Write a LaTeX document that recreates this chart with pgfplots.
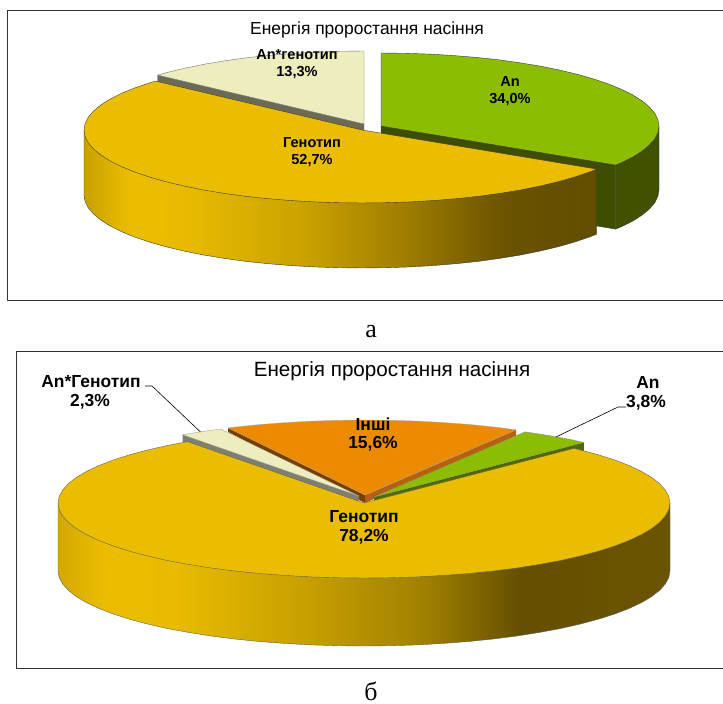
\documentclass[border=0pt]{standalone}
\usepackage{fontspec}
\setmainfont{Liberation Sans}
\newfontfamily\capfont{Liberation Serif}
\usepackage{pgfplots}
\pgfplotsset{compat=1.18}

\definecolor{yel}{HTML}{EBBD00}
\definecolor{grn}{HTML}{8DBD00}
\definecolor{grnwall}{HTML}{3D4E00}
\definecolor{grnwallb}{HTML}{4F6B00}
\definecolor{crm}{HTML}{EDEDBE}
\definecolor{crmwall}{HTML}{6B6B55}
\definecolor{crmwallb}{HTML}{7F7F70}
\definecolor{org}{HTML}{EC8B00}
\definecolor{brnl}{HTML}{B8610C}
\definecolor{brnd}{HTML}{7A3E00}
\definecolor{edge}{HTML}{3A3A30}

\tikzset{
  lblA/.style={font=\fontsize{14.6}{15}\selectfont\bfseries, inner sep=0pt, text=black},
  lblB/.style={font=\fontsize{17.5}{18}\selectfont\bfseries, inner sep=0pt, text=black},
}

% Side walls of the two large slices: bright at the left, dark towards the right
\pgfdeclarehorizontalshading{sideA}{100bp}{
  rgb(0bp)=(.79,.63,0); rgb(25bp)=(.79,.63,0); rgb(29.5bp)=(.922,.741,0);
  rgb(34.8bp)=(.91,.733,0); rgb(46bp)=(.80,.64,0); rgb(55.8bp)=(.63,.50,0);
  rgb(66.2bp)=(.416,.322,0); rgb(75bp)=(.384,.302,0); rgb(100bp)=(.384,.302,0)}
\pgfdeclarehorizontalshading{sideB}{100bp}{
  rgb(0bp)=(.824,.659,0); rgb(25bp)=(.824,.659,0); rgb(28.8bp)=(.922,.741,0);
  rgb(34.6bp)=(.91,.733,0); rgb(44.8bp)=(.788,.631,0); rgb(55bp)=(.627,.502,0);
  rgb(62.7bp)=(.396,.31,0); rgb(75bp)=(.42,.33,0); rgb(100bp)=(.42,.33,0)}

\begin{document}
\begin{tikzpicture}
\begin{axis}[
  width=723bp, height=704bp, scale only axis,
  xmin=0, xmax=723, ymin=0, ymax=704, y dir=reverse,
  hide axis,
  every axis plot/.append style={line join=round},
]
% page background
\addplot[fill=white, draw=none] coordinates {(0,0)(723,0)(723,704)(0,704)} --cycle;

% ---------- panel a: frames ----------
\addplot[draw=black!80, line width=0.9bp] coordinates {(723,10.5)(7,10.5)(7,300)(723,300)};
\addplot[draw=black!80, line width=0.9bp] coordinates {(723,351)(16,351)(16,668)(723,668)};

% ---------- panel a: An ----------
\addplot[fill=grnwall, draw=edge, line width=0.4bp] coordinates
  {(381,126)(615.7,165.1)(615.7,229.1)(381,190)} --cycle;
\addplot[fill=grnwall!96!grn, draw=edge, line width=0.4bp] coordinates
  {(659,126)(615.7,165.1)(615.7,229.1)(621.8,226.5)(633,220.9)(642.2,215)(649.5,208.9)
   (654.8,202.7)(657.9,196.4)(659,190)} --cycle;
\addplot[fill=grn, draw=edge, line width=0.4bp] coordinates
  {(381,126)(381,53)(405.2,53.3)(429.3,54.1)(452.9,55.5)(476.1,57.4)(498.5,59.8)(520,62.8)
   (540.5,66.2)(559.7,70.1)(577.6,74.4)(594,79.1)(608.7,84.1)(621.8,89.5)(633,95.1)
   (642.2,101)(649.5,107.1)(654.8,113.3)(657.9,119.6)(659,126)(657.9,132.4)(654.8,138.7)
   (649.5,144.9)(642.2,151)(633,156.9)(621.8,162.5)(615.7,165.1)} --cycle;

% ---------- panel a: An*genotype ----------
\addplot[fill=crmwall, draw=edge!70, line width=0.3bp] coordinates
  {(157.7,75.1)(364,124)(364,131)(157.7,82.1)} --cycle;
\addplot[fill=crm, draw=black!55, line width=0.4bp] coordinates
  {(364,124)(157.7,75.1)(167.4,72.4)(185.3,68.1)(204.5,64.2)(225,60.8)(246.5,57.8)
   (268.9,55.4)(292.1,53.5)(315.7,52.1)(339.8,51.3)(364,51)} --cycle;

% ---------- panel a: genotype ----------
\addplot[shade, shading=sideA, draw=edge, line width=0.4bp] coordinates
  {(84,130)(596.7,169.1)(596.7,234.1)(589.7,236.9)(575,241.9)(558.6,246.6)(540.7,250.9)
   (521.5,254.8)(501,258.2)(479.5,261.2)(457.1,263.6)(433.9,265.5)(410.3,266.9)(386.2,267.7)
   (362,268)(337.8,267.7)(313.7,266.9)(290.1,265.5)(266.9,263.6)(244.5,261.2)(223,258.2)
   (202.5,254.8)(183.3,250.9)(165.4,246.6)(149,241.9)(134.3,236.9)(121.2,231.5)(110,225.9)
   (100.8,220)(93.5,213.9)(88.2,207.7)(85.1,201.4)(84,195)} --cycle;
\addplot[fill=yel, draw=edge, line width=0.4bp] coordinates
  {(362,130)(596.7,169.1)(589.7,171.9)(575,176.9)(558.6,181.6)(540.7,185.9)(521.5,189.8)
   (501,193.2)(479.5,196.2)(457.1,198.6)(433.9,200.5)(410.3,201.9)(386.2,202.7)(362,203)
   (337.8,202.7)(313.7,201.9)(290.1,200.5)(266.9,198.6)(244.5,196.2)(223,193.2)(202.5,189.8)
   (183.3,185.9)(165.4,181.6)(149,176.9)(134.3,171.9)(121.2,166.5)(110,160.9)(100.8,155)
   (93.5,148.9)(88.2,142.7)(85.1,136.4)(84,130)(85.1,123.6)(88.2,117.3)(93.5,111.1)
   (100.8,105)(110,99.1)(121.2,93.5)(134.3,88.1)(149,83.1)(155.7,81.1)} --cycle;

% ---------- panel b: cut faces of the small slices ----------
\addplot[fill=brnl, draw=none] coordinates {(516.2,429.8)(365,495)(365,503)(516.2,435.8)} --cycle;
\addplot[fill=brnd, draw=none] coordinates {(228,427.9)(365,495)(365,503)(228,431.9)} --cycle;
\addplot[fill=grnwallb, draw=none] coordinates {(583.9,442.4)(374,497)(374,510)(583.9,452)} --cycle;

% ---------- panel b: An ----------
\addplot[fill=grn, draw=black!45, line width=0.3bp] coordinates
  {(374,497)(525.2,431.8)(549.5,435.6)(570.7,439.5)(583.9,442.4)} --cycle;

% ---------- panel b: others ----------
\addplot[fill=org, draw=black!35, line width=0.3bp] coordinates
  {(365,495)(228,427.9)(235.7,427)(260.3,424.5)(285.8,422.6)(311.9,421.1)(338.3,420.3)
   (365,420)(391.7,420.3)(418.1,421.1)(444.2,422.6)(469.7,424.5)(494.3,427)(516.2,429.8)} --cycle;

% ---------- panel b: An*genotype ----------
\addplot[fill=crmwallb, draw=none] coordinates {(182.6,434.7)(359,496)(359,503)(182.6,441.7)} --cycle;
\addplot[fill=crm, draw=black!40, line width=0.3bp] coordinates
  {(359,496)(182.6,434.7)(206,431)(220.6,429.1)} --cycle;

% ---------- panel b: genotype ----------
\addplot[shade, shading=sideB, draw=edge!80, line width=0.4bp] coordinates
  {(58,503)(670,503)(670,571)(668.8,577.5)(665.3,584)(659.6,590.4)(651.5,596.7)(641.3,602.7)
   (629,608.5)(614.7,614)(598.4,619.2)(580.4,624)(560.7,628.5)(539.5,632.4)(517,636)
   (493.3,639)(468.7,641.5)(443.2,643.4)(417.1,644.9)(390.7,645.7)(364,646)(337.3,645.7)
   (310.9,644.9)(284.8,643.4)(259.3,641.5)(234.7,639)(211,636)(188.5,632.4)(167.3,628.5)
   (147.6,624)(129.6,619.2)(113.3,614)(99,608.5)(86.7,602.7)(76.5,596.7)(68.4,590.4)
   (62.7,584)(59.2,577.5)(58,571)} --cycle;
\addplot[fill=yel, draw=edge!80, line width=0.4bp] coordinates
  {(364,503)(573.9,448.4)(580.4,450)(598.4,454.8)(614.7,460)(629,465.5)(641.3,471.3)
   (651.5,477.3)(659.6,483.6)(665.3,490)(668.8,496.5)(670,503)(668.8,509.5)(665.3,516)
   (659.6,522.4)(651.5,528.7)(641.3,534.7)(629,540.5)(614.7,546)(598.4,551.2)(580.4,556)
   (560.7,560.5)(539.5,564.4)(517,568)(493.3,571)(468.7,573.5)(443.2,575.4)(417.1,576.9)
   (390.7,577.7)(364,578)(337.3,577.7)(310.9,576.9)(284.8,575.4)(259.3,573.5)(234.7,571)
   (211,568)(188.5,564.4)(167.3,560.5)(147.6,556)(129.6,551.2)(113.3,546)(99,540.5)
   (86.7,534.7)(76.5,528.7)(68.4,522.4)(62.7,516)(59.2,509.5)(58,503)(59.2,496.5)(62.7,490)
   (68.4,483.6)(76.5,477.3)(86.7,471.3)(99,465.5)(113.3,460)(129.6,454.8)(147.6,450)
   (167.3,445.5)(187.6,441.7)} --cycle;

% leader lines
\addplot[draw=black, line width=0.6bp] coordinates {(145,386)(152,386)(200.5,432)};
\addplot[draw=black, line width=0.6bp] coordinates {(626,407)(618,407)(556,437)};

% titles
\node[anchor=base, inner sep=0pt, font=\fontsize{17.5}{18}\selectfont] at (axis cs:367,35) {Енергія проростання насіння};
\node[anchor=base, inner sep=0pt, font=\fontsize{20.7}{21}\selectfont] at (axis cs:392,376) {Енергія проростання насіння};

% slice labels, panel a
\node[lblA] at (axis cs:510,81.5) {An};
\node[lblA] at (axis cs:510,99.5) {34,0\%};
\node[lblA] at (axis cs:297,54.5) {An*генотип};
\node[lblA] at (axis cs:297,72.5) {13,3\%};
\node[lblA] at (axis cs:312,143) {Генотип};
\node[lblA] at (axis cs:312,161) {52,7\%};

% slice labels, panel b
\node[lblB] at (axis cs:91,382) {An*Генотип};
\node[lblB] at (axis cs:90,402) {2,3\%};
\node[lblB] at (axis cs:648,382.5) {An};
\node[lblB] at (axis cs:646,402.5) {3,8\%};
\node[lblB] at (axis cs:373,424) {Інші};
\node[lblB] at (axis cs:373,444) {15,6\%};
\node[lblB] at (axis cs:364,517) {Генотип};
\node[lblB] at (axis cs:364,537) {78,2\%};

% panel captions
\node[anchor=base, inner sep=0pt, font=\capfont\fontsize{26}{27}\selectfont] at (axis cs:371,337) {а};
\node[anchor=base, inner sep=0pt, font=\capfont\fontsize{26}{27}\selectfont] at (axis cs:371,700) {б};
\end{axis}
\end{tikzpicture}
\end{document}
